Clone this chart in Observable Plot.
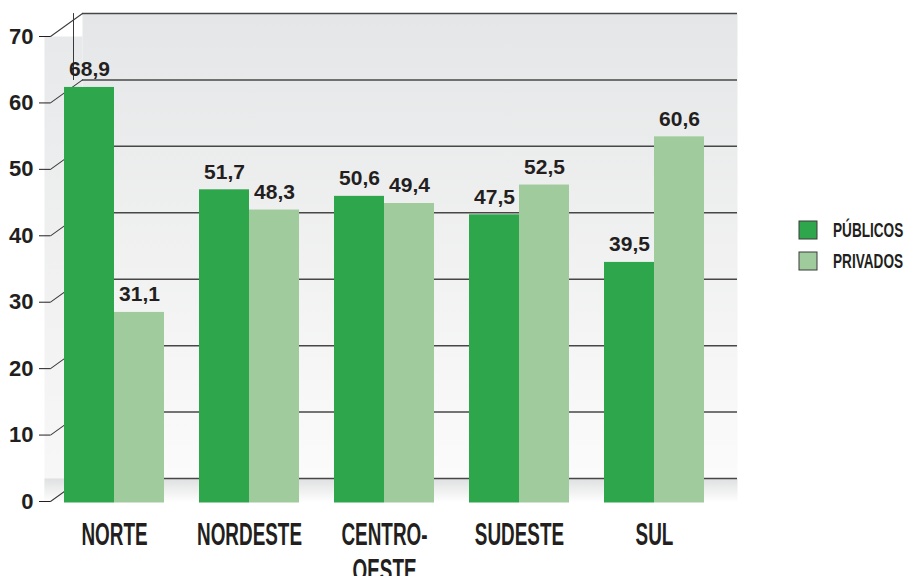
<!DOCTYPE html>
<html><head><meta charset="utf-8">
<script src="https://cdn.jsdelivr.net/npm/d3@7"></script>
<script src="https://cdn.jsdelivr.net/npm/@observablehq/plot@0.6"></script>
<style>
html,body{margin:0;padding:0;background:#fff;}
#wrap{position:relative;width:907px;height:576px;overflow:hidden;}
#wrap > svg{position:absolute;left:0;top:0;}
.lg-swatches{position:absolute;left:799px;top:214.5px;margin:0;width:108px;font:bold 20px "Liberation Sans",Arial,sans-serif;color:#231f20;}
.lg-swatch{height:31px;padding-bottom:0;display:flex;align-items:center;}
.lg-swatch > svg{margin-right:16px;overflow:visible;flex:none;}
.lg-swatch > svg rect{stroke:#3a3a3a;stroke-width:1;}
.lg-swatch-label{transform:scaleX(0.68);transform-origin:left center;overflow:visible;text-overflow:clip;}
</style></head><body><div id="wrap"></div><script>
const regions = ["NORTE", "NORDESTE", "CENTRO-OESTE", "SUDESTE", "SUL"];
const regionLabels = ["NORTE", "NORDESTE", "CENTRO-\nOESTE", "SUDESTE", "SUL"];
const series = ["PÚBLICOS", "PRIVADOS"];
const publicos = [68.9, 51.7, 50.6, 47.5, 39.5];
const privados = [31.1, 48.3, 49.4, 52.5, 60.6];
const yTicks = [0, 10, 20, 30, 40, 50, 60, 70];
const colors = ["#2ea64b", "#a0cb9c"];

const data = regions.flatMap((r, i) => [
  {region: r, series: series[0], value: publicos[i]},
  {region: r, series: series[1], value: privados[i]}
]);
const labelOf = new Map(regions.map((r, i) => [r, regionLabels[i]]));
const fmt = v => v.toFixed(1).replace(".", ",");
const ink = "#231f20";

const W = 907, H = 576;
const wrap = document.getElementById("wrap");

// Back frame: walls, floor, gridlines, front axis
const frame = Plot.plot({
  width: W, height: H,
  marginTop: 36, marginBottom: 75, marginLeft: 50, marginRight: 202,
  style: {fontFamily: "Liberation Sans, Arial, sans-serif", fontWeight: "bold", background: "#fff"},
  y: {domain: [0, 70], axis: null},
  marks: [
    Plot.frame({fill: "url(#gWall)", stroke: "none", dx: 32, dy: -23}),
    Plot.frame({fill: "url(#gSide)", stroke: "none", insetLeft: -6, insetRight: 623}),
    Plot.frame({fill: "url(#gFloor)", stroke: "none", insetTop: 442, insetBottom: -1, insetLeft: -6, insetRight: -32}),
    Plot.ruleY(yTicks, {dx: 32, dy: -23, stroke: "#474747", strokeWidth: 1.5}),
    Plot.vector(yTicks, {y: d => d, frameAnchor: "left", length: 39.4, rotate: 54.3, anchor: "start", r: 0, stroke: "#3a3a3a", strokeWidth: 1}),
    Plot.vector([70], {y: d => d, frameAnchor: "left", dx: 23, dy: -23, length: 66, rotate: 180, anchor: "start", r: 0, stroke: "#3a3a3a", strokeWidth: 1}),
    Plot.axisY({ticks: yTicks, tickSize: 11, tickPadding: 6, fontSize: 22, fontWeight: "bold", color: ink, label: null})
  ]
});
frame.insertAdjacentHTML("afterbegin", `<defs>
<linearGradient id="gWall" x1="0" y1="0" x2="0" y2="1"><stop offset="0" stop-color="#e5e6e7"/><stop offset="1" stop-color="#fbfbfb"/></linearGradient>
<linearGradient id="gSide" x1="0" y1="0" x2="0" y2="1"><stop offset="0" stop-color="#e8e9ea"/><stop offset="1" stop-color="#f8f8f8"/></linearGradient>
<linearGradient id="gFloor" x1="0" y1="0" x2="0" y2="1"><stop offset="0" stop-color="#dfe0e1"/><stop offset="1" stop-color="#ffffff"/></linearGradient>
</defs>`);
wrap.appendChild(frame);

// Bars, values, categories
const bars = Plot.plot({
  width: W, height: H,
  marginTop: 80.4, marginBottom: 79, marginLeft: 44, marginRight: 182,
  style: {fontFamily: "Liberation Sans, Arial, sans-serif", fontWeight: "bold", background: "transparent"},
  fx: {domain: regions, paddingInner: 0.256, paddingOuter: 0.1326, axis: null, label: null},
  x: {domain: series, padding: 0, axis: null, label: null},
  y: {domain: [0, 70], axis: null},
  color: {domain: series, range: colors},
  marks: [
    Plot.barY(data, {fx: "region", x: "series", y: "value", fill: "series", insetBottom: -5.5}),
    Plot.text(data, {fx: "region", x: "series", y: "value", text: d => fmt(d.value), lineAnchor: "bottom", dy: -11, fontSize: 21, fontWeight: "bold", fill: ink}),
    Plot.text(regions, {fx: d => d, text: d => labelOf.get(d), frameAnchor: "bottom", lineAnchor: "top", dy: 22, lineHeight: 1.16, fontSize: 31, fontWeight: "bold", fill: ink})
  ]
});
// condense the category labels horizontally (the original uses a condensed face)
const regionSet = new Set(regions);
bars.querySelectorAll("text").forEach(t => {
  if (!regionSet.has(t.textContent.replace(/\s/g, ""))) return;
  const tr = t.getAttribute("transform");
  if (tr) {
    t.setAttribute("transform", tr + " scale(0.61,1)");
  } else {
    const x = +(t.getAttribute("x") || 0), y = +(t.getAttribute("y") || 0);
    t.removeAttribute("x"); t.removeAttribute("y");
    t.setAttribute("transform", `translate(${x},${y}) scale(0.61,1)`);
  }
});
wrap.appendChild(bars);

const legend = Plot.legend({color: {domain: series, range: colors}, legend: "swatches", columns: 1, swatchSize: 18, className: "lg"});
wrap.appendChild(legend);
</script></body></html>
